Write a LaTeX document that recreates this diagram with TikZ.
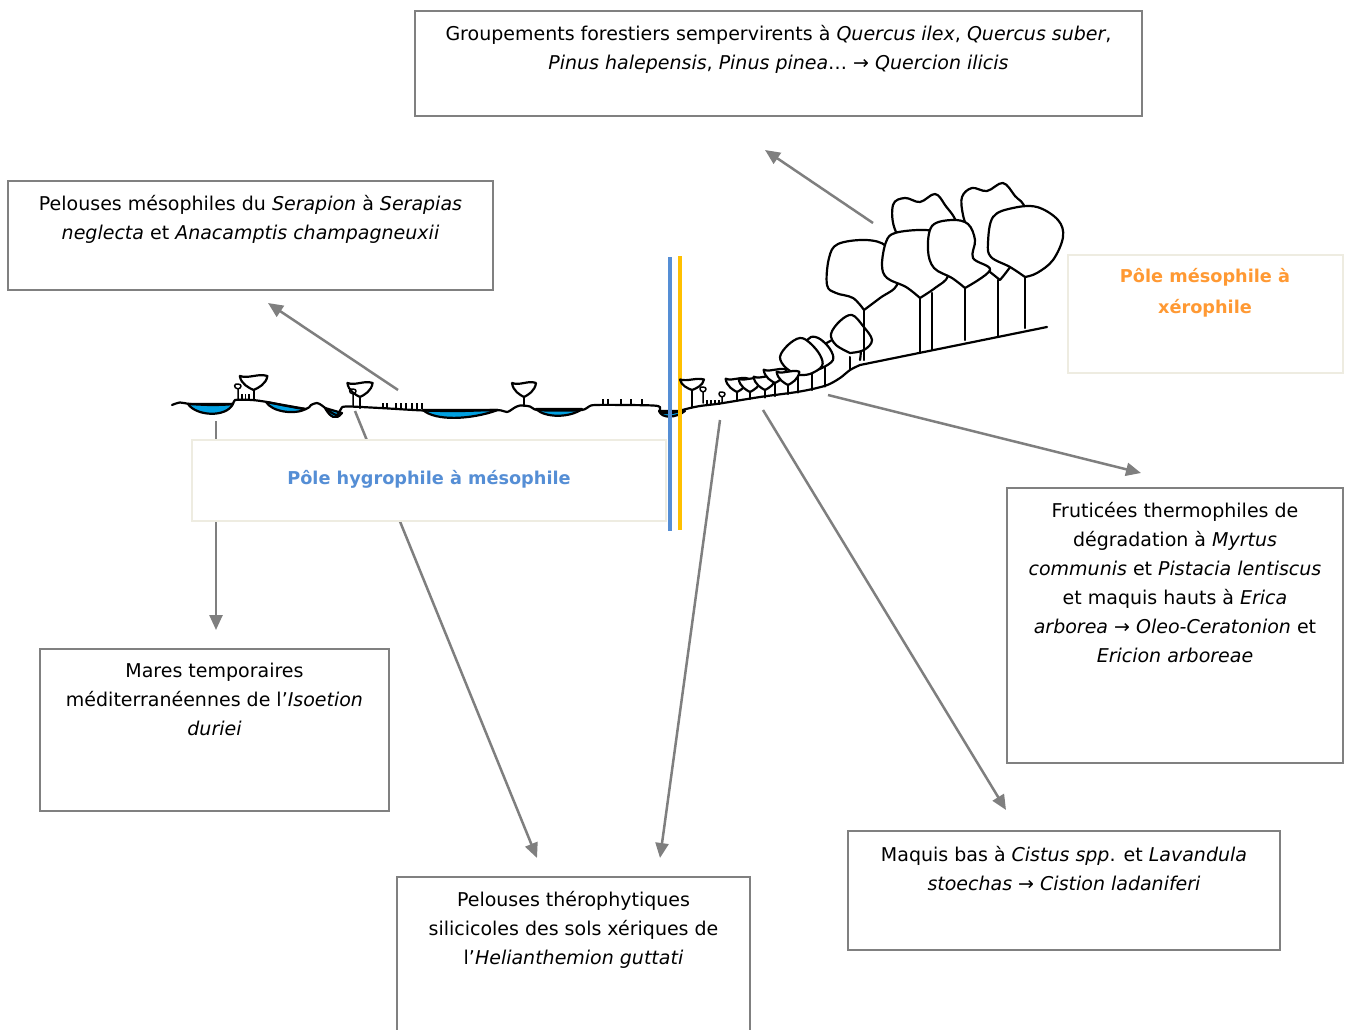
\documentclass[tikz,border=0pt]{standalone}
\usepackage{fontspec}
\setmainfont{DejaVu Sans}
\newfontfamily\symfont{DejaVu Sans}
\usetikzlibrary{positioning, arrows.meta}
\definecolor{boxgray}{RGB}{128,128,128}
\definecolor{arrowgray}{RGB}{127,127,127}
\definecolor{paleframe}{RGB}{238,236,225}
\definecolor{hygroblue}{RGB}{85,142,213}
\definecolor{xeroorange}{RGB}{255,153,51}
\definecolor{lineblue}{RGB}{85,142,213}
\definecolor{lineorange}{RGB}{255,192,0}
\definecolor{water}{RGB}{0,160,225}
\newcommand{\arr}{{\symfont →}}
\tikzstyle{box} = [rectangle, draw=boxgray, line width=1.8pt, inner sep=0pt]
\tikzstyle{pole} = [rectangle, draw=paleframe, line width=2pt, fill=white, inner sep=0pt]
\tikzstyle{txt} = [align=center, inner sep=0pt, font=\fontsize{19}{29}\selectfont]
\tikzstyle{poletxt} = [align=center, inner sep=0pt, font=\fontsize{17.7}{31}\selectfont\bfseries]
\tikzstyle{arrow} = [line width=2.5pt, draw=arrowgray, -{Triangle[length=15pt,width=13pt]}]
\tikzstyle{land} = [line width=2.2pt, line join=round, line cap=round]
\tikzstyle{pond} = [land, fill=water]
\tikzstyle{crown} = [land, fill=white]
\tikzstyle{grass} = [line width=1.4pt]
\tikzset{cup/.pic={\draw[crown] (-12,-14) .. controls (-11,-6) and (-4,-2) .. (0,0) .. controls (4,-2) and (11,-6) .. (12,-14) .. controls (4,-17) and (-4,-11) .. (-12,-14);}}

\begin{document}
\begin{tikzpicture}[x=1pt, y=-1pt]
  \useasboundingbox (0,0) rectangle (1347,1030);

  % boxes
  \node (forest) [box, minimum width=727pt, minimum height=105pt] at (778.5,63.5) {};
  \node (serapion) [box, minimum width=485pt, minimum height=109pt] at (250.5,235.5) {};
  \node (mares) [box, minimum width=349pt, minimum height=162pt] at (214.5,730) {};
  \node (thero) [box, minimum width=353pt, minimum height=163pt] at (573.5,958.5) {};
  \node (maquis) [box, minimum width=432pt, minimum height=119pt] at (1064,890.5) {};
  \node (fruti) [box, minimum width=336pt, minimum height=275pt] at (1175,625.5) {};

  \node (forestTxt) [txt, below=15pt of forest.north] {Groupements forestiers sempervirents à \textit{Quercus ilex}, \textit{Quercus suber},\\ \textit{Pinus halepensis}, \textit{Pinus pinea}… \arr{} \textit{Quercion ilicis}};
  \node (serapionTxt) [txt, below=15pt of serapion.north] {Pelouses mésophiles du \textit{Serapion} à \textit{Serapias}\\ \textit{neglecta} et \textit{Anacamptis champagneuxii}};
  \node (maresTxt) [txt, below=15pt of mares.north] {Mares temporaires\\ méditerranéennes de l’\textit{Isoetion}\\ \textit{duriei}};
  \node (theroTxt) [txt, below=15pt of thero.north] {Pelouses thérophytiques\\ silicicoles des sols xériques de\\ l’\textit{Helianthemion guttati}};
  \node (maquisTxt) [txt, below=16pt of maquis.north] {Maquis bas à \textit{Cistus spp}. et \textit{Lavandula}\\ \textit{stoechas} \arr{} \textit{Cistion ladaniferi}};
  \node (frutiTxt) [txt, below=15pt of fruti.north] {Fruticées thermophiles de\\ dégradation à \textit{Myrtus}\\ \textit{communis} et \textit{Pistacia lentiscus}\\ et maquis hauts à \textit{Erica}\\ \textit{arborea} \arr{} \textit{Oleo-Ceratonion} et\\ \textit{Ericion arboreae}};

  % arrows from the profile
  \coordinate (forestFrom) at (873,223);  \coordinate (forestTo) at (765,150);
  \coordinate (serapionFrom) at (398,390); \coordinate (serapionTo) at (268,303);
  \coordinate (maresFrom) at (216,421);   \coordinate (maresTo) at (216,630);
  \coordinate (theroFromA) at (355,411);  \coordinate (theroToA) at (537,858);
  \coordinate (theroFromB) at (720,420);  \coordinate (theroToB) at (660,858);
  \coordinate (maquisFrom) at (763,410);  \coordinate (maquisTo) at (1006,810);
  \coordinate (frutiFrom) at (828,395);   \coordinate (frutiTo) at (1141,473);
  \draw [arrow] (forestFrom) -- (forestTo);
  \draw [arrow] (serapionFrom) -- (serapionTo);
  \draw [arrow] (maresFrom) -- (maresTo);
  \draw [arrow] (theroFromA) -- (theroToA);
  \draw [arrow] (theroFromB) -- (theroToB);
  \draw [arrow] (maquisFrom) -- (maquisTo);
  \draw [arrow] (frutiFrom) -- (frutiTo);

  % poles
  \node (hygro) [pole, minimum width=474pt, minimum height=81pt] at (429,480.5) {};
  \node (xero) [pole, minimum width=275pt, minimum height=118pt] at (1205.5,314) {};
  \node (hygroTxt) [poletxt, text=hygroblue] at (429,479) {Pôle hygrophile à mésophile};
  \node (xeroTxt) [poletxt, text=xeroorange] at (1205,292.5) {Pôle mésophile à\\ xérophile};

  % ponds
  \draw[pond] (188,404) .. controls (196,416) and (226,418) .. (233,404) -- cycle;
  \draw[pond] (266,402) .. controls (272,412) and (295,415) .. (306,409) -- cycle;
  \draw[pond] (325,408) .. controls (330,417) and (336,421) .. (342,413) -- cycle;
  \draw[pond] (423,410) .. controls (435,421) and (470,420) .. (498,410) -- cycle;
  \draw[pond] (536,409) .. controls (545,418) and (570,418) .. (582,409) -- cycle;
  \draw[pond] (659,411) .. controls (662,419) and (676,418) .. (685,411) -- cycle;

  % ground
  \draw[land] plot[smooth, tension=0.5] coordinates {(172,405) (180,402.5) (190,404) (212,405) (232,404) (235,400) (252,400) (267,402) (287,406) (306,409) (311,405) (317,403) (322,405.5) (329,411) (337,415) (341,409) (346,406.5) (380,408) (424,410.5) (460,411) (497,410) (507,412) (514,408) (520,405.5) (530,406.5) (537,410) (560,410.5) (582,410) (589,406.5) (595,405) (625,405) (658,406) (660,412) (672,413) (686,409) (700,406) (720,403.5) (760,397) (800,391.5) (826,385.5) (840,378) (850,370) (860,365)} -- (1047,327);

  % small trees and grass, wet side
  \draw[land] (253.6,390) -- (253.6,400);
  \pic[xscale=1.15] at (253.6,390) {cup};
  \draw[land, line width=1.5pt] (238,399) -- (238,389) .. controls (233,388) and (234,383) .. (238,384) .. controls (242,384) and (242,388) .. (238,389);
  \foreach \x in {242,245.5,249} \draw[grass] (\x,400) -- ++(0,-6);
  \draw[land] (360,397) -- (360,408);
  \pic[xscale=1.05] at (360,397) {cup};
  \draw[land, line width=1.5pt] (353,406) -- (353,394) .. controls (348,393) and (349,388) .. (353,389) .. controls (357,389) and (357,393) .. (353,394);
  \foreach \x in {383,387,396,401,406,412,417,422} \draw[grass] (\x,409) -- ++(0,-6);
  \draw[land] (524,397) -- (524,406);
  \pic at (524,397) {cup};
  \foreach \x in {603,608,621,631,642} \draw[grass] (\x,405) -- ++(0,-6);

  % colour limits
  \draw[lineblue, line width=4.5pt] (670,257) -- (670,531);
  \draw[lineorange, line width=4.5pt] (680,256) -- (680,530);

  % shrubs, dry side
  \draw[land] (692,390) -- (692,407);
  \pic[yscale=0.75] at (692,390) {cup};
  \draw[land, line width=1.5pt] (703,403) -- (703,392) .. controls (699,391) and (699,386) .. (703,387) .. controls (707,387) and (707,391) .. (703,392);
  \draw[land, line width=1.5pt] (722,402) -- (722,397) .. controls (718,396) and (718,391) .. (722,392) .. controls (726,392) and (726,396) .. (722,397);
  \foreach \x in {707,711,715,719} \draw[grass] (\x,404.5) -- ++(0,-5);
  \foreach \x/\t/\g in {737/392/400.5, 750/392/399, 765/390/397.5, 775/383/396, 788/385/394, 798/375/392.5, 812/371/390, 825/367/386.5, 850/353/369}
    \draw[land] (\x,\t) -- (\x,\g);
  \draw[crown] plot[smooth, tension=0.6] coordinates {(822,346) (835,339) (850,339) (860,348) (860,360)};
  \draw[crown] plot[smooth, tension=0.6] coordinates {(850,353) (836,345) (831,334) (840,321) (852,315) (863,326) (872,340) (864,350) (850,353)};
  \draw[crown] plot[smooth, tension=0.6] coordinates {(812,371) (822,368) (833,360) (830,349) (820,339) (811,337) (806,344) (807,360) (812,371)};
  \draw[crown] plot[smooth, tension=0.6] coordinates {(798,375) (786,368) (780,357) (788,345) (800,338) (810,343) (820,355) (822,366) (810,374) (798,375)};
  \foreach \x/\t in {737/392, 750/392, 765/390, 775/383, 788/385}
    \pic[scale=0.95] at (\x,\t) {cup};

  % big trees
  \foreach \x/\t/\g in {864/310/360, 920/298/352, 932/293/350, 965/288/340, 998/280/337, 1025/277/328}
    \draw[land] (\x,\t) -- (\x,\g);
  \draw[crown] plot[smooth, tension=0.6] coordinates {(920,262) (896,232) (893,205) (905,198) (920,202) (935,194) (945,205) (956,225) (940,250) (920,262)};
  \draw[crown] plot[smooth, tension=0.6] coordinates {(1000,280) (985,268) (972,258) (970,238) (963,215) (962,197) (972,188) (987,191) (1003,183) (1015,196) (1025,210) (1020,250) (1000,280)};
  \draw[crown] plot[smooth, tension=0.6] coordinates {(864,310) (853,298) (836,293) (827,285) (829,258) (838,244) (866,240) (886,246) (893,265) (897,285) (880,298) (864,310)};
  \draw[crown] plot[smooth, tension=0.6] coordinates {(920,298) (906,287) (887,278) (882,265) (886,242) (895,233) (922,230) (938,234) (944,255) (948,276) (935,288) (920,298)};
  \draw[crown] plot[smooth, tension=0.6] coordinates {(965,288) (952,278) (934,268) (928,250) (932,226) (952,220) (968,224) (975,240) (973,258) (990,270) (965,288)};
  \draw[crown] plot[smooth, tension=0.6] coordinates {(1025,277) (1010,267) (991,257) (988,243) (993,217) (1013,208) (1037,207) (1058,220) (1063,237) (1053,260) (1037,273) (1025,277)};
\end{tikzpicture}
\end{document}
